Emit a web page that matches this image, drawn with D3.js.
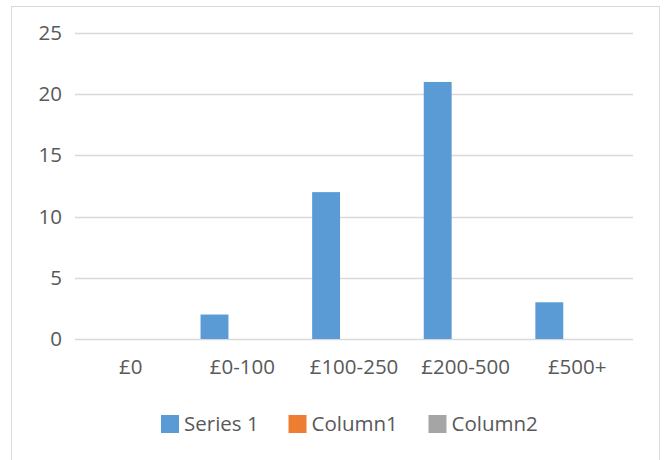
<!DOCTYPE html>
<html>
<head>
<meta charset="utf-8">
<script src="https://cdn.jsdelivr.net/npm/d3@7"></script>
<style>
  html, body { margin: 0; padding: 0; background: #fff; }
  svg { display: block; }
  text { font-family: "Open Sans", "Noto Sans", sans-serif; fill: #595959; }
</style>
</head>
<body>
<svg id="chart" width="664" height="460"></svg>
<script>
// Spending bands and counts per band
const categories = ["£0", "£0-100", "£100-250", "£200-500", "£500+"];
const seriesNames = ["Series 1", "Column1", "Column2"];
const series1 = [0, 2, 12, 21, 3];
const column1 = [0, 0, 0, 0, 0];
const column2 = [0, 0, 0, 0, 0];
const yTicks = [0, 5, 10, 15, 20, 25];
const colors = ["#5B9BD5", "#ED7D31", "#A5A5A5"];

const seriesValues = [series1, column1, column2];

const svg = d3.select("#chart");
const plot = { left: 75, right: 633, top: 33, bottom: 339 };
const fontSize = 20.5;

// Outer chart frame
svg.append("rect")
  .attr("x", 11.5).attr("y", 6.5)
  .attr("width", 648).attr("height", 470)
  .attr("fill", "#fff")
  .attr("stroke", "#D9D9D9")
  .attr("stroke-width", 1);

const x0 = d3.scaleBand()
  .domain(categories)
  .range([plot.left, plot.right])
  .paddingInner(0).paddingOuter(0);

const x1 = d3.scaleBand()
  .domain(seriesNames)
  .range([0, x0.bandwidth()])
  .paddingInner(0).paddingOuter(0.5);

const y = d3.scaleLinear()
  .domain([0, 25])
  .range([plot.bottom, plot.top]);

// Horizontal gridlines
svg.append("g")
  .selectAll("line")
  .data(yTicks)
  .join("line")
  .attr("x1", plot.left).attr("x2", plot.right)
  .attr("y1", d => Math.round(y(d)) + 0.5)
  .attr("y2", d => Math.round(y(d)) + 0.5)
  .attr("stroke", "#D9D9D9")
  .attr("stroke-width", 1.5);

// Y axis labels
const yAxis = d3.axisLeft(y).tickValues(yTicks).tickSize(0).tickPadding(0);
const yg = svg.append("g")
  .attr("transform", `translate(62,0)`)
  .call(yAxis);
yg.select(".domain").remove();
yg.selectAll("text")
  .attr("font-size", fontSize)
  .attr("font-family", "Open Sans, Noto Sans, sans-serif")
  .attr("fill", "#595959");

// Bars
const rows = categories.map((c, i) => ({ cat: c, vals: seriesNames.map((s, j) => ({ s, j, v: seriesValues[j][i] })) }));
svg.append("g")
  .selectAll("g")
  .data(rows)
  .join("g")
  .attr("transform", d => `translate(${x0(d.cat)},0)`)
  .selectAll("rect")
  .data(d => d.vals)
  .join("rect")
  .attr("x", d => x1(d.s))
  .attr("width", x1.bandwidth())
  .attr("y", d => y(d.v))
  .attr("height", d => y(0) - y(d.v))
  .attr("fill", d => colors[d.j]);

// Category axis labels
const xAxis = d3.axisBottom(x0).tickSize(0).tickPadding(0);
const xg = svg.append("g")
  .attr("transform", `translate(0,359)`)
  .call(xAxis);
xg.select(".domain").remove();
xg.selectAll("text")
  .attr("font-size", fontSize)
  .attr("font-family", "Open Sans, Noto Sans, sans-serif")
  .attr("fill", "#595959");

// Legend
const legendX = [161, 288.5, 428.5];
const legend = svg.append("g")
  .selectAll("g")
  .data(seriesNames)
  .join("g")
  .attr("transform", (d, i) => `translate(${legendX[i]},415)`);
legend.append("rect")
  .attr("width", 18).attr("height", 18)
  .attr("fill", (d, i) => colors[i]);
legend.append("text")
  .attr("x", 23).attr("y", 9)
  .attr("dy", "0.35em")
  .attr("font-size", fontSize)
  .text(d => d);
</script>
</body>
</html>
